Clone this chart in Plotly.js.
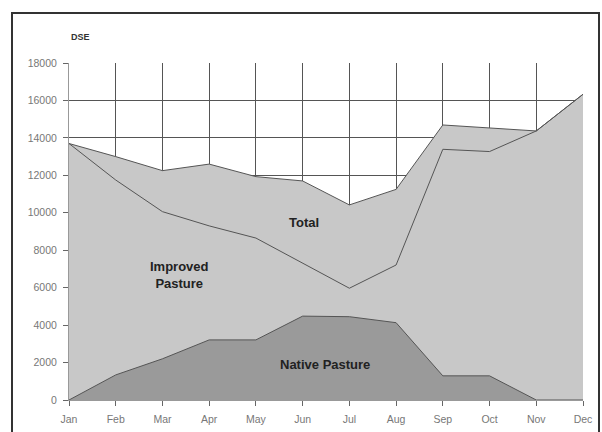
<!DOCTYPE html>
<html>
<head>
<meta charset="utf-8">
<script src="https://cdn.plot.ly/plotly-3.0.1.min.js"></script>
<style>
html,body{margin:0;padding:0;background:#fff;}
#wrap{position:relative;width:602px;height:432px;overflow:hidden;}
#chart{position:absolute;left:0;top:0;width:602px;height:432px;}
#frame{position:absolute;left:11px;top:12px;width:585px;height:440px;border:2px solid #333;pointer-events:none;}
</style>
</head>
<body>
<div id="wrap"><div id="chart"></div><div id="frame"></div></div>
<script>
const months = ["Jan","Feb","Mar","Apr","May","Jun","Jul","Aug","Sep","Oct","Nov","Dec"];
const total = [13700,13000,12250,12600,11930,11700,10420,11250,14690,14510,14370,16330];
const improvedLine = [13700,11750,10060,9300,8650,7300,5970,7210,13390,13270,14370,16330];
const nativePasture = [0,1340,2200,3210,3210,4480,4450,4130,1290,1290,0,0];
const yTicks = [0,2000,4000,6000,8000,10000,12000,14000,16000,18000];
const yTickText = ["0","2000","4000","6000","8000","10000","12000","14000","16000","18000"];

const xIdx = months.map((m,i)=>i);

const traces = [
  {x:xIdx, y:total, type:'scatter', mode:'lines', fill:'tozeroy',
   fillcolor:'#c8c8c8', line:{color:'#555', width:1}, hoverinfo:'skip'},
  {x:xIdx, y:improvedLine, type:'scatter', mode:'lines',
   line:{color:'#555', width:1}, hoverinfo:'skip'},
  {x:xIdx, y:nativePasture, type:'scatter', mode:'lines', fill:'tozeroy',
   fillcolor:'#9a9a9a', line:{color:'#555', width:1}, hoverinfo:'skip'}
];

const tickFont = {family:'Arial, Liberation Sans, sans-serif', size:10.5, color:'#777'};
const labelFont = {family:'Arial, Liberation Sans, sans-serif', size:13, color:'#222', weight:'bold'};

const layout = {
  width:602, height:432,
  margin:{l:69, r:19, t:63, b:32},
  paper_bgcolor:'rgba(0,0,0,0)', plot_bgcolor:'#fff',
  showlegend:false,
  xaxis:{range:[0,11], tickvals:xIdx, ticktext:months, showgrid:true,
    gridcolor:'#555', gridwidth:1, ticks:'outside', ticklen:5, tickcolor:'#666',
    showline:true, linecolor:'#999', zeroline:false, tickfont:tickFont, fixedrange:true,
    ticklabelstandoff:4},
  yaxis:{range:[0,18000], tickvals:yTicks, ticktext:yTickText, showgrid:true, gridcolor:'#555', gridwidth:1,
    ticks:'outside', ticklen:5, tickcolor:'#666', showline:true, linecolor:'#999',
    zeroline:false, tickfont:tickFont, fixedrange:true, ticklabelstandoff:4},
  annotations:[
    {text:'<b>DSE</b>', xref:'paper', yref:'paper', x:0, y:1, yshift:26, xanchor:'left',
     yanchor:'middle', showarrow:false, font:{family:'Arial, Liberation Sans, sans-serif', size:9, color:'#333'}},
    {text:'Total', xref:'x', yref:'y', x:5.03, y:9500, showarrow:false, font:labelFont},
    {text:'Improved<br>Pasture', xref:'x', yref:'y', x:2.375, y:6700, showarrow:false, font:labelFont},
    {text:'Native Pasture', xref:'x', yref:'y', x:5.47, y:1870, showarrow:false, font:labelFont}
  ]
};

Plotly.newPlot('chart', traces, layout, {staticPlot:true, displayModeBar:false});
</script>
</body>
</html>
